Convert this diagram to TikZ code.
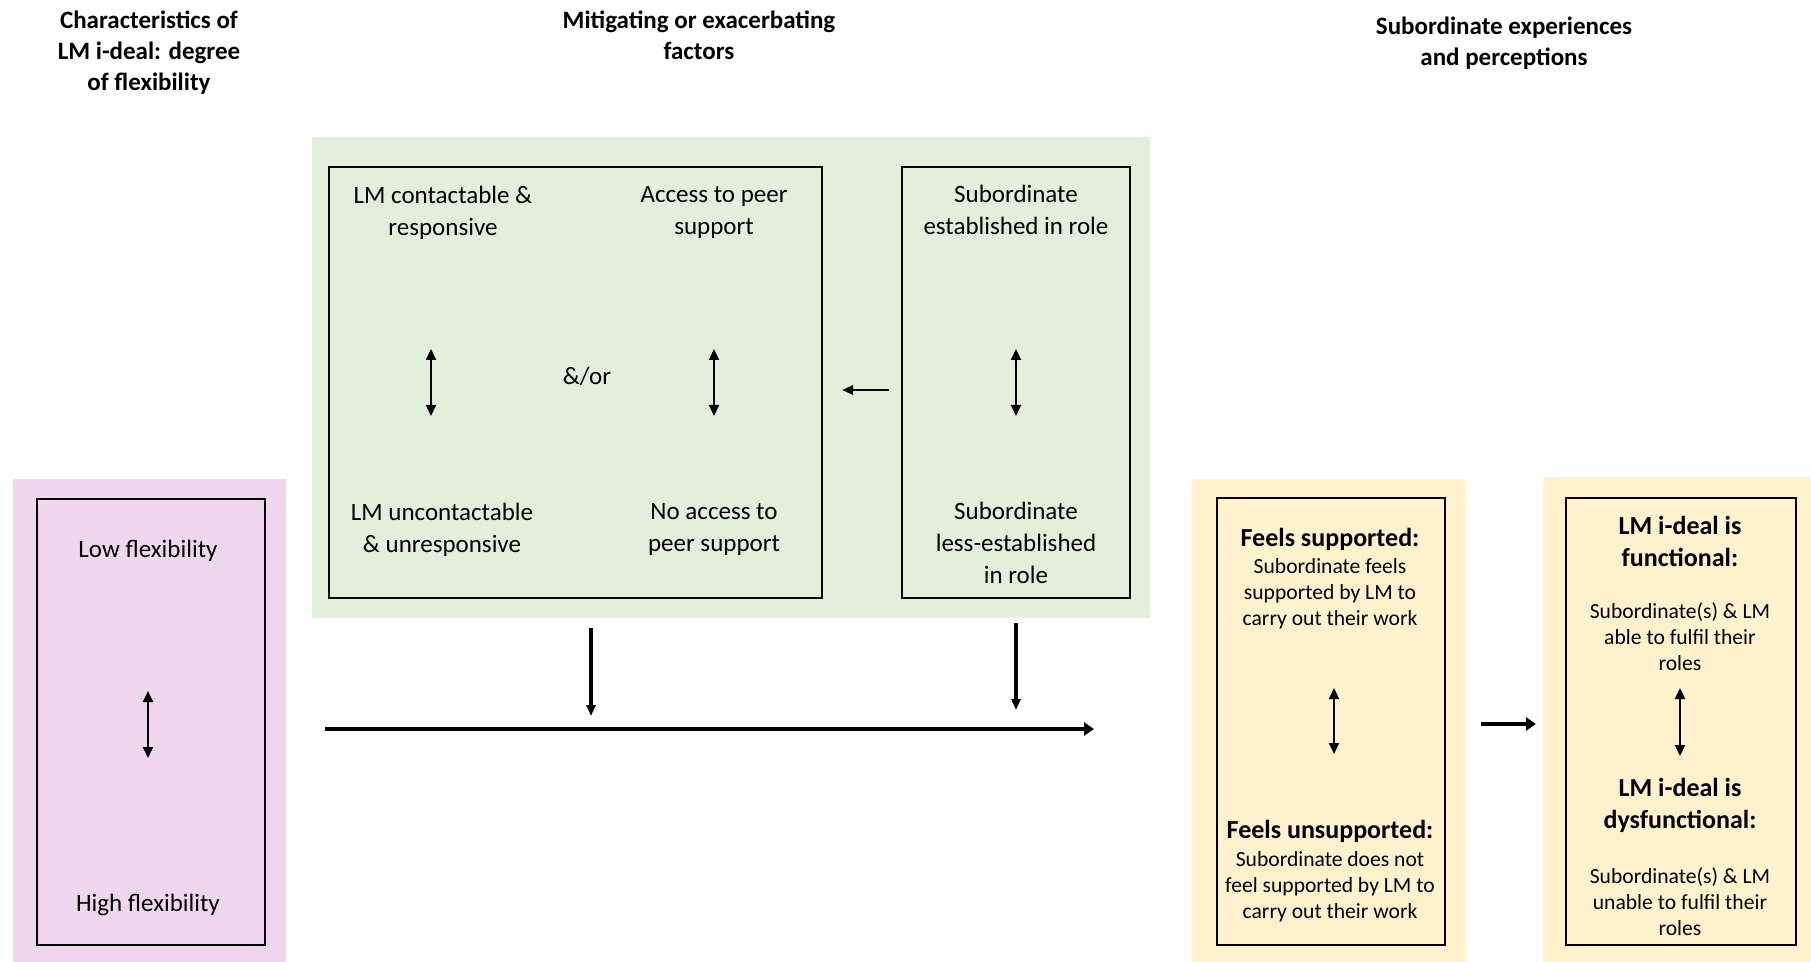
\documentclass[tikz,border=0pt]{standalone}
\usepackage{fontspec}
\setmainfont{Carlito}
\usetikzlibrary{arrows.meta,fit}
\definecolor{pinkbg}{RGB}{239,215,238}
\definecolor{greenbg}{RGB}{226,239,218}
\definecolor{yellowbg}{RGB}{255,242,204}
\tikzset{
  panel/.style={inner sep=0pt, draw=none},
  frame/.style={draw=black, line width=1.3pt, inner sep=0pt},
  lbl/.style={align=center, font=\fontsize{12.5}{16}\selectfont, inner sep=0pt},
  small/.style={align=center, font=\fontsize{10.8}{13}\selectfont, inner sep=0pt},
  head/.style={align=center, font=\bfseries\fontsize{13}{16}\selectfont, inner sep=0pt},
  title/.style={align=center, font=\bfseries\fontsize{12.5}{15.5}\selectfont, inner sep=0pt},
  dbl/.style={{Triangle[width=5pt,length=5.5pt]}-{Triangle[width=5pt,length=5.5pt]}, line width=1pt},
  flow/.style={-{Triangle[width=4.5pt,length=5.5pt]}, line width=1.2pt},
  bigflow/.style={-{Triangle[width=6.5pt,length=5pt]}, line width=2pt},
}
\begin{document}
\begin{tikzpicture}[x=0.5pt,y=-0.5pt]
\useasboundingbox (0,0) rectangle (1811,962);

% column titles
\node[title] (t1) at (149,53) {Characteristics of\\LM i-deal: degree\\of flexibility};
\node[title] (t2) at (699,35) {Mitigating or exacerbating\\factors};
\node[title] (t3) at (1504,43) {Subordinate experiences\\and perceptions};

% coloured panels
\node[panel, fill=pinkbg, fit={(13,479) (286,962)}] (pink) {};
\node[panel, fill=greenbg, fit={(312,137) (1150,618)}] (green) {};
\node[panel, fill=yellowbg, fit={(1192,479) (1465,962)}] (yel1) {};
\node[panel, fill=yellowbg, fit={(1543,477) (1811,962)}] (yel2) {};

% framed boxes
\node[frame, fit={(37,499) (265,945)}] (flex) {};
\node[frame, fit={(329,167) (822,598)}] (lmbox) {};
\node[frame, fit={(902,167) (1130,598)}] (subbox) {};
\node[frame, fit={(1217,498) (1445,945)}] (feel) {};
\node[frame, fit={(1566,498) (1796,945)}] (ideal) {};

% flexibility
\node[lbl] (low) at (148,551) {Low flexibility};
\node[lbl] (high) at (148,905) {High flexibility};
\coordinate (fa) at (148,691);
\coordinate (fb) at (148,758);
\draw[dbl] (fa) -- (fb);

% line manager and peer support
\node[lbl] (lmc) at (443,213) {LM contactable \&\\responsive};
\node[lbl] (acc) at (714,212) {Access to peer\\support};
\node[lbl] (lmu) at (442,530) {LM uncontactable\\\& unresponsive};
\node[lbl] (noacc) at (714,529) {No access to\\peer support};
\node[lbl] (andor) at (587,376) {\&/or};
\coordinate (la) at (431,349);
\coordinate (lb) at (431,416);
\draw[dbl] (la) -- (lb);
\coordinate (pa) at (714,349);
\coordinate (pb) at (714,416);
\draw[dbl] (pa) -- (pb);

% subordinate establishment
\node[lbl] (est) at (1016,210) {Subordinate\\established in role};
\node[lbl] (less) at (1016,543) {Subordinate\\less-established\\in role};
\coordinate (sa) at (1016,349);
\coordinate (sb) at (1016,416);
\draw[dbl] (sa) -- (sb);
\coordinate (ls) at (889,390);
\coordinate (le) at (842,390);
\draw[flow] (ls) -- (le);

% main flow
\coordinate (m0) at (325,729);
\coordinate (m1) at (1094,729);
\draw[bigflow] (m0) -- (m1);
\coordinate (d1s) at (591,628);
\coordinate (d1e) at (591,716);
\draw[flow, line width=1.6pt] (d1s) -- (d1e);
\coordinate (d2s) at (1016,623);
\coordinate (d2e) at (1016,710);
\draw[flow, line width=1.6pt] (d2s) -- (d2e);

% subordinate experiences
\node[head] (fs) at (1330,539) {Feels supported:};
\node[small] (fst) at (1330,594) {Subordinate feels\\supported by LM to\\carry out their work};
\node[head] (fu) at (1330,831) {Feels unsupported:};
\node[small] (fut) at (1330,887) {Subordinate does not\\feel supported by LM to\\carry out their work};
\coordinate (ea) at (1334,688);
\coordinate (eb) at (1334,754);
\draw[dbl] (ea) -- (eb);

\coordinate (xa) at (1481,724);
\coordinate (xb) at (1536,724);
\draw[bigflow] (xa) -- (xb);

% i-deal outcome
\node[head] (fn) at (1680,541) {LM i-deal is\\functional:};
\node[small] (fnt) at (1680,637) {Subordinate(s) \& LM\\able to fulfil their\\roles};
\node[head] (dy) at (1680,805) {LM i-deal is\\dysfunctional:};
\node[small] (dyt) at (1680,902) {Subordinate(s) \& LM\\unable to fulfil their\\roles};
\coordinate (ia) at (1680,688);
\coordinate (ib) at (1680,756);
\draw[dbl] (ia) -- (ib);
\end{tikzpicture}
\end{document}
